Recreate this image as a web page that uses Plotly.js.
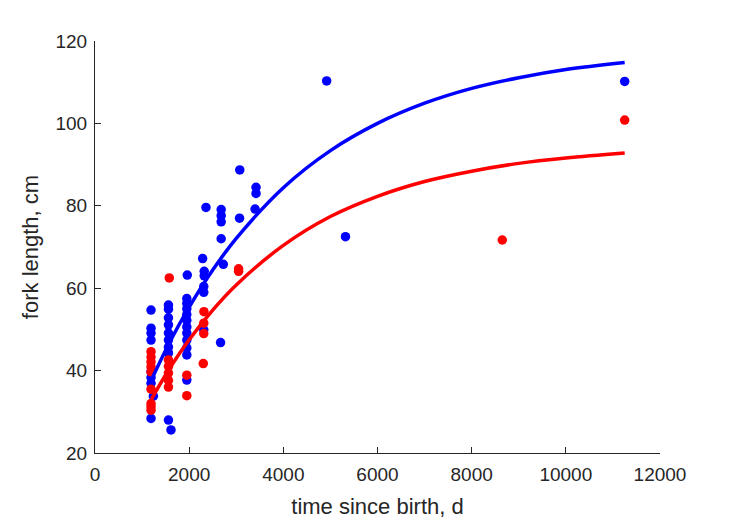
<!DOCTYPE html>
<html>
<head>
<meta charset="utf-8">
<script src="https://cdn.plot.ly/plotly-3.0.1.min.js"></script>
<style>html,body{margin:0;padding:0;background:#fff;}#chart{width:729px;height:521px;}</style>
</head>
<body>
<div id="chart"></div>
<script>
// Blue observations
const blueT = [1190,1190,1190,1190,1190,1190,1190,1240,1190,
  1560,1560,1560,1560,1560,1560,1560,1560,1560,1614,
  1960,1950,1950,1950,1950,1950,1950,1950,1950,1950,1950,1950,
  2357,2286,2320,2320,2310,2310,2310,
  2680,2680,2680,2680,2725,2667,
  3075,3070,3420,3420,3400,
  4920,5320,11250];
const blueL = [54.7,50.3,49.1,47.4,39.7,38.3,36.9,33.8,28.4,
  55.9,54.9,52.8,51.1,49.1,47.4,45.7,44.3,28.0,25.6,
  63.2,57.5,56.3,55.0,53.6,52.2,50.6,49.1,47.4,45.5,43.8,37.7,
  79.6,67.2,64.1,63.0,60.4,59.0,49.9,
  79.1,77.6,76.1,72.0,65.8,46.8,
  88.7,77.0,84.5,83.0,79.2,
  110.3,72.5,110.2];
// Red observations
const redT = [1190,1190,1190,1190,1190,1190,1190,1190,1190,
  1578,1560,1560,1560,1560,1560,
  1950,1950,
  2314,2310,2310,2300,
  3050,3050,
  8650,11250];
const redL = [44.6,43.3,42.1,40.9,39.7,35.5,32.0,31.2,30.4,
  62.5,42.6,41.0,39.4,37.6,36.0,
  38.9,33.9,
  54.3,51.5,49.0,41.7,
  64.7,64.1,
  71.7,100.8];
// Fitted growth curves
const curveT = [1200,1600,2000,2500,3000,4000,5000,6000,7000,8000,9000,10000,11250];
const blueFit = [37.8,47.2,55.4,64.4,72.1,84.4,93.4,100.0,104.9,108.5,111.1,113.1,114.8];
const redFit  = [33.1,40.8,47.5,54.7,60.8,70.4,77.4,82.3,85.9,88.4,90.3,91.6,92.8];

const xTicks = [0,2000,4000,6000,8000,10000,12000];
const yTicks = [20,40,60,80,100,120];

const BLUE = '#0000ff', RED = '#ff0000', AX = '#262626';
const traces = [
  {x: blueT, y: blueL, mode: 'markers', type: 'scatter', marker: {color: BLUE, size: 9.5}, hoverinfo: 'x+y'},
  {x: redT, y: redL, mode: 'markers', type: 'scatter', marker: {color: RED, size: 9.5}, hoverinfo: 'x+y'},
  {x: curveT, y: blueFit, mode: 'lines', type: 'scatter', line: {color: BLUE, width: 3.5, shape: 'spline', smoothing: 1}},
  {x: curveT, y: redFit, mode: 'lines', type: 'scatter', line: {color: RED, width: 3.5, shape: 'spline', smoothing: 1}}
];
const FAM = 'Liberation Sans, Arial, Helvetica, sans-serif';
const layout = {
  width: 729, height: 521,
  margin: {l: 95, r: 69, t: 41, b: 68},
  paper_bgcolor: '#fff', plot_bgcolor: '#fff',
  showlegend: false,
  font: {family: FAM, color: AX},
  xaxis: {
    range: [0, 12000], tickvals: xTicks, ticktext: xTicks.map(String),
    showgrid: false, zeroline: false, showline: true, linecolor: AX, linewidth: 1,
    ticks: 'inside', ticklen: 6, tickcolor: AX, ticklabelstandoff: 4,
    tickfont: {size: 19, family: FAM, color: AX},
    title: {text: 'time since birth, d', font: {size: 22, family: FAM, color: AX}, standoff: 14}
  },
  yaxis: {
    range: [20, 120], tickvals: yTicks, ticktext: yTicks.map(String),
    showgrid: false, zeroline: false, showline: true, linecolor: AX, linewidth: 1,
    ticks: 'inside', ticklen: 6, tickcolor: AX, ticklabelstandoff: 3,
    tickfont: {size: 19, family: FAM, color: AX},
    title: {text: 'fork length, cm', font: {size: 22, family: FAM, color: AX}, standoff: 10}
  }
};
Plotly.newPlot('chart', traces, layout, {displayModeBar: false, staticPlot: true});
</script>
</body>
</html>
